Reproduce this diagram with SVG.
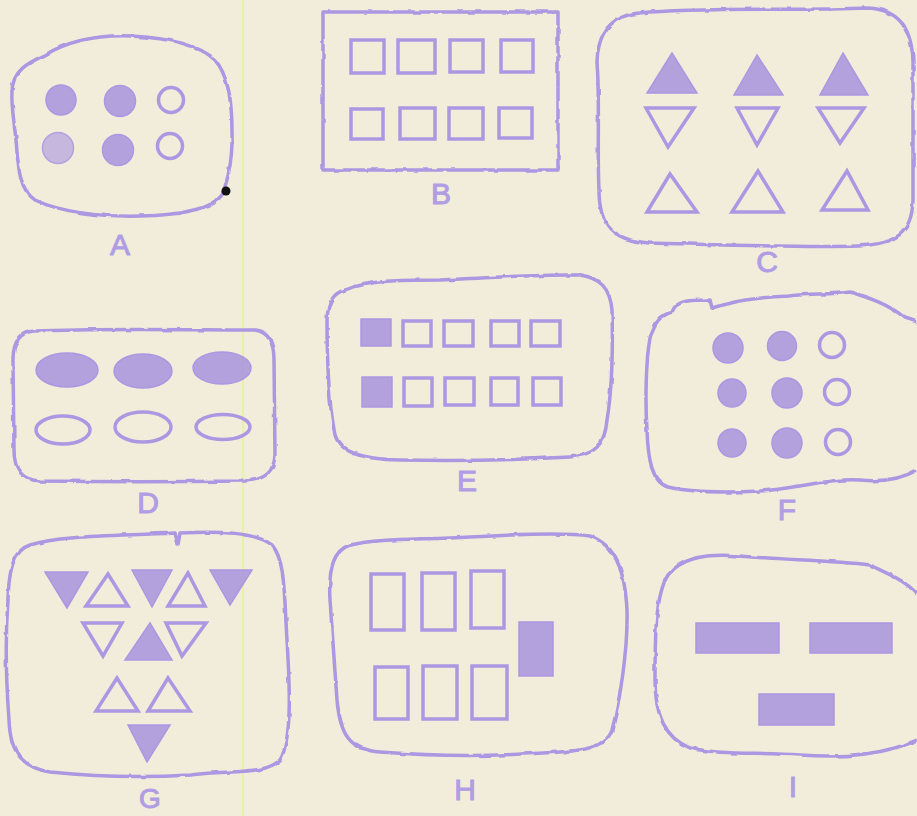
<svg xmlns="http://www.w3.org/2000/svg" width="917" height="816" viewBox="0 0 917 816">
<defs>
<filter id="rough" x="-5%" y="-5%" width="110%" height="110%">
<feTurbulence type="fractalNoise" baseFrequency="0.08" numOctaves="2" seed="3" result="n"/>
<feDisplacementMap in="SourceGraphic" in2="n" scale="3" xChannelSelector="R" yChannelSelector="G"/>
</filter>
<style>
.bg{fill:#f2edda}
.out{fill:none;stroke:#ac97e2;stroke-width:3.5;stroke-linejoin:round;filter:url(#rough)}
.fl{fill:#a893dd;fill-opacity:0.85;stroke:#ac97e2;stroke-width:1.5}
.fl2{fill:#ad9ae0;fill-opacity:0.65;stroke:#b3a0e3;stroke-width:1.5}
.op{fill:none;stroke:#ac97e2;stroke-width:3.5}
.lb{font-family:"Liberation Sans","DejaVu Sans",sans-serif;font-size:30px;fill:#b09de4;stroke:#b09de4;stroke-width:1;text-anchor:middle}
</style>
</defs>
<rect class="bg" x="0" y="0" width="917" height="816"/>
<line x1="243" y1="0" x2="243" y2="816" stroke="#e4f29a" stroke-width="1.5"/>

<g id="panel-A">
<path class="out" d="M12,92 C12,70 30,62 45,55 C70,40 100,35 130,36 C170,38 200,45 215,60 C228,75 232,100 232,130 C233,160 228,180 222,195 C210,210 180,215 140,216 C100,217 60,212 35,200 C20,190 18,170 16,140 C14,120 11,105 12,92 Z"/>
<circle class="fl" cx="61" cy="100" r="15"/>
<circle class="fl" cx="120" cy="101" r="15.5"/>
<circle class="op" cx="171" cy="100" r="12.5"/>
<circle class="fl2" cx="58" cy="148" r="15.5"/>
<circle class="fl" cx="118" cy="150" r="15.5"/>
<circle class="op" cx="170" cy="146" r="12.5"/>
<circle cx="226" cy="191" r="4.5" fill="#111"/>
<text class="lb" x="120" y="255">A</text>
</g>

<g id="panel-B">
<rect class="out" x="323" y="12" width="235" height="158"/>
<rect class="op" x="351" y="40" width="33" height="33"/>
<rect class="op" x="398" y="40" width="37" height="33"/>
<rect class="op" x="450" y="40" width="33" height="32"/>
<rect class="op" x="501" y="40" width="32" height="32"/>
<rect class="op" x="351" y="109" width="32" height="30"/>
<rect class="op" x="400" y="108" width="35" height="31"/>
<rect class="op" x="449" y="108" width="34" height="31"/>
<rect class="op" x="499" y="108" width="33" height="30"/>
<text class="lb" x="441" y="204">B</text>
</g>

<g id="panel-C">
<path class="out" d="M640,13 C700,7 800,11 868,8 C902,10 912,32 913,62 L913,200 C912,232 898,244 858,246 C800,248 700,244 648,243 C612,240 599,225 599,190 C597,150 600,100 597,62 C598,28 615,15 640,13 Z"/>
<polygon class="fl" points="672,53 647,93 697,93"/>
<polygon class="fl" points="757,55 734,95 783,95"/>
<polygon class="fl" points="843,53 820,95 868,95"/>
<polygon class="op" points="646,108 694,108 668,147"/>
<polygon class="op" points="737,108 778,108 757,145"/>
<polygon class="op" points="818,108 864,108 840,143"/>
<polygon class="op" points="670,174 647,212 697,212"/>
<polygon class="op" points="758,171 732,212 783,212"/>
<polygon class="op" points="847,171 822,210 868,210"/>
<text class="lb" x="767" y="272">C</text>
</g>

<g id="panel-D">
<path class="out" d="M34,331 C100,328 200,330 255,330 C270,332 274,345 274,360 L275,455 C274,472 265,480 245,481 C180,482 100,482 40,481 C22,480 14,470 14,450 L13,360 C13,342 20,332 34,331 Z"/>
<ellipse class="fl" cx="67" cy="370" rx="31" ry="17"/>
<ellipse class="fl" cx="143" cy="371" rx="29" ry="17"/>
<ellipse class="fl" cx="222" cy="368" rx="29" ry="16"/>
<ellipse class="op" cx="63" cy="430" rx="27" ry="14"/>
<ellipse class="op" cx="143" cy="427" rx="28" ry="15"/>
<ellipse class="op" cx="223" cy="427" rx="27" ry="12.5"/>
<text class="lb" x="148" y="513">D</text>
</g>

<g id="panel-E">
<path class="out" d="M345,290 C370,280 400,280 440,280 C480,278 540,274 580,275 C600,278 610,288 612,310 C613,350 612,390 607,420 C605,445 595,455 570,457 C520,460 460,461 400,460 C360,459 340,452 335,435 C328,400 327,350 327,320 C328,300 334,293 345,290 Z"/>
<rect class="fl" x="361" y="319" width="30" height="27"/>
<rect class="op" x="403" y="321" width="28" height="25"/>
<rect class="op" x="444" y="321" width="29" height="25"/>
<rect class="op" x="491" y="321" width="28" height="25"/>
<rect class="op" x="531" y="321" width="29" height="25"/>
<rect class="fl" x="362" y="377" width="30" height="30"/>
<rect class="op" x="404" y="378" width="28" height="28"/>
<rect class="op" x="445" y="378" width="29" height="27"/>
<rect class="op" x="491" y="378" width="27" height="27"/>
<rect class="op" x="533" y="378" width="28" height="27"/>
<text class="lb" x="467" y="491">E</text>
</g>

<g id="panel-F">
<path class="out" d="M672,312 C676,300 690,300 710,300 L712,308 C730,302 760,297 790,296 C810,293 830,295 850,292 C870,298 890,305 905,318 C912,320 917,322 917,322 M917,470 C900,480 880,482 860,480 C830,478 800,488 760,491 C720,493 690,492 668,487 C652,482 648,460 647,430 C645,400 646,360 650,338 C655,320 662,315 672,312"/>
<circle class="fl" cx="728" cy="348" r="15"/>
<circle class="fl" cx="782" cy="346" r="14.5"/>
<circle class="op" cx="832" cy="345" r="12.5"/>
<circle class="fl" cx="732" cy="393" r="14"/>
<circle class="fl" cx="787" cy="393" r="15"/>
<circle class="op" cx="837" cy="392" r="12.5"/>
<circle class="fl" cx="732" cy="443" r="14"/>
<circle class="fl" cx="787" cy="443" r="15"/>
<circle class="op" cx="838" cy="442" r="12.5"/>
<text class="lb" x="787" y="520">F</text>
</g>

<g id="panel-G">
<path class="out" d="M30,545 C60,535 120,536 175,533 L178,545 L180,533 C220,531 255,532 272,545 C285,560 284,590 287,640 C290,690 292,740 280,760 C265,775 230,770 190,775 C140,778 90,776 50,772 C25,768 10,755 9,720 C6,680 5,640 8,600 C9,565 15,550 30,545 Z"/>
<polygon class="fl" points="45,572 88,572 67,608"/>
<polygon class="op" points="108,574 86,606 128,606"/>
<polygon class="fl" points="132,570 172,570 152,607"/>
<polygon class="op" points="188,573 168,606 205,606"/>
<polygon class="fl" points="210,570 252,570 230,605"/>
<polygon class="op" points="83,623 122,623 103,656"/>
<polygon class="fl" points="150,623 125,660 172,660"/>
<polygon class="op" points="166,623 206,623 182,656"/>
<polygon class="op" points="117,678 96,711 138,711"/>
<polygon class="op" points="168,678 148,711 190,711"/>
<polygon class="fl" points="128,725 170,725 147,762"/>
<text class="lb" x="150" y="808" font-size="28px" style="font-size:28px">G</text>
</g>

<g id="panel-H">
<path class="out" d="M350,545 C380,538 420,540 470,537 C520,534 570,533 590,536 C615,545 625,570 627,610 C628,650 620,700 612,730 C605,752 570,752 520,754 C470,757 420,755 380,752 C350,750 340,735 337,700 C335,670 333,640 330,600 C328,565 335,550 350,545 Z"/>
<rect class="op" x="371" y="574" width="33" height="56"/>
<rect class="op" x="422" y="573" width="33" height="57"/>
<rect class="op" x="471" y="571" width="33" height="57"/>
<rect class="op" x="375" y="667" width="33" height="52"/>
<rect class="op" x="423" y="666" width="34" height="53"/>
<rect class="op" x="472" y="666" width="35" height="53"/>
<rect class="fl" x="519" y="622" width="34" height="54"/>
<text class="lb" x="465" y="800">H</text>
</g>

<g id="panel-I">
<path class="out" d="M917,594 C905,580 890,575 870,565 C830,560 780,560 740,556 C700,553 680,560 668,575 C655,595 655,640 655,680 C655,715 665,738 690,748 C720,755 760,752 800,755 C840,758 870,755 895,748 C905,745 912,742 917,740"/>
<rect class="fl" x="696" y="623" width="83" height="30"/>
<rect class="fl" x="810" y="623" width="82" height="30"/>
<rect class="fl" x="759" y="694" width="75" height="31"/>
<text class="lb" x="793" y="797">I</text>
</g>
</svg>
